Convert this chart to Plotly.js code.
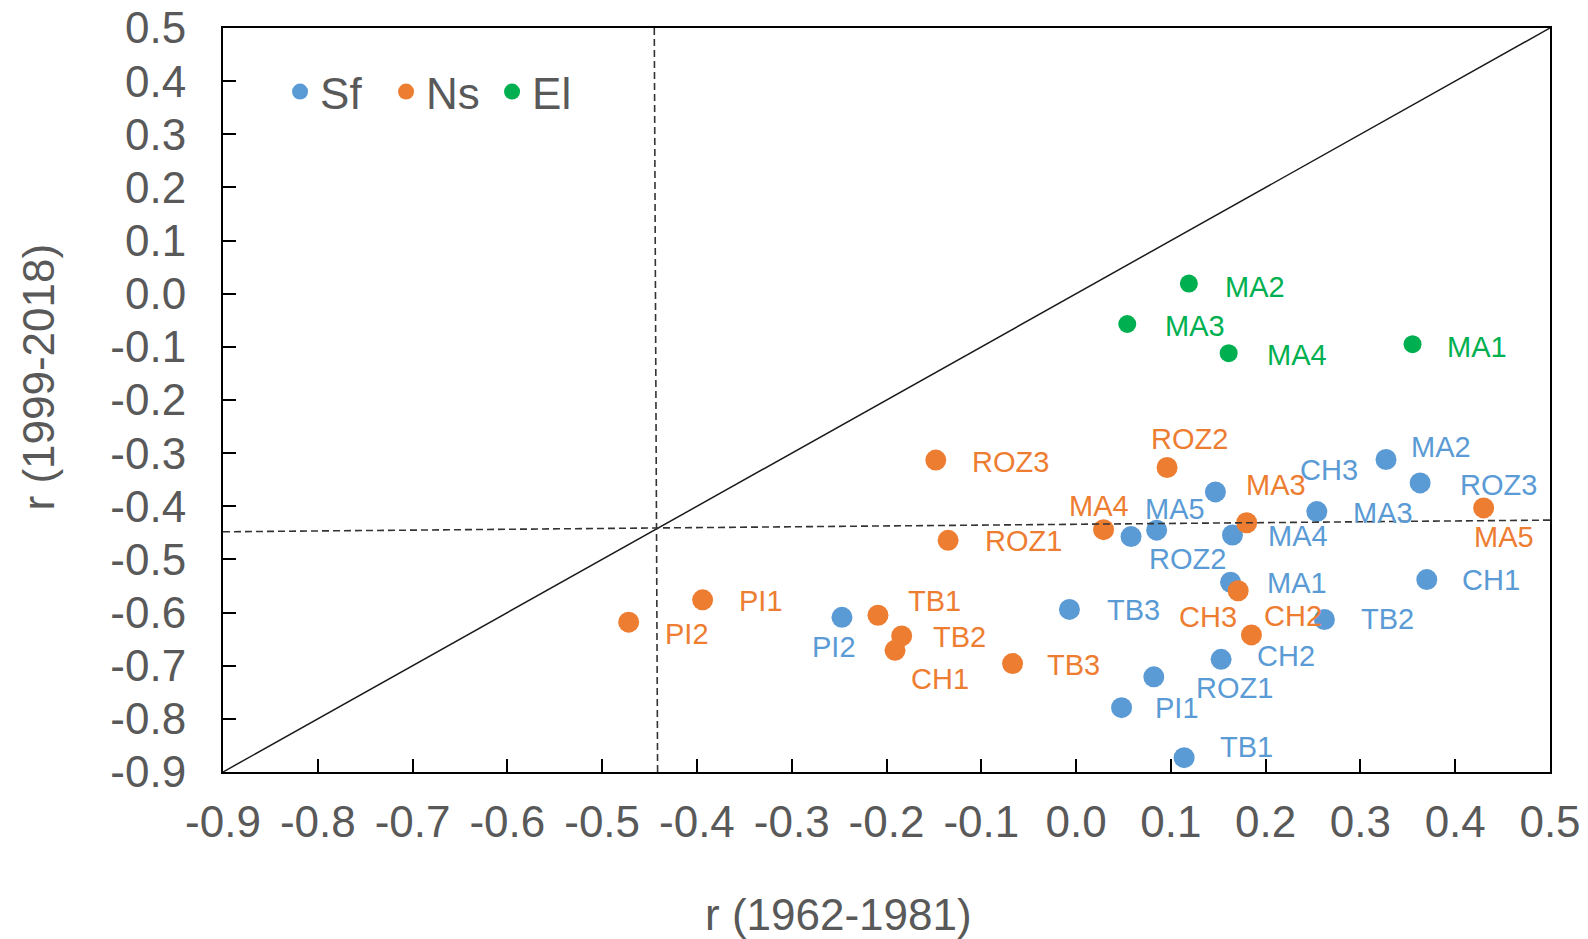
<!DOCTYPE html>
<html>
<head>
<meta charset="utf-8">
<script src="https://cdn.plot.ly/plotly-3.0.1.min.js"></script>
<style>
  html, body { margin: 0; padding: 0; background: #fff; }
  #chart { width: 1588px; height: 939px; }
</style>
</head>
<body>
<div id="chart"></div>
<script>
// Correlation r for two periods, per site and tree-ring parameter
const sfNames = ['PI2', 'TB3', 'PI1', 'ROZ1', 'TB1', 'CH2', 'MA1', 'MA4', 'ROZ2', 'MA5', 'CH3', 'MA3', 'MA2', 'ROZ3', 'CH1', 'TB2'];
const sfX = [-0.247, -0.007, 0.048, 0.082, 0.114, 0.153, 0.163, 0.165, 0.058, 0.085, 0.147, 0.254, 0.327, 0.363, 0.370, 0.262];
const sfY = [-0.609, -0.594, -0.779, -0.721, -0.873, -0.688, -0.543, -0.454, -0.457, -0.445, -0.373, -0.410, -0.312, -0.356, -0.538, -0.613];

const nsNames = ['PI2', 'PI1', 'ROZ3', 'ROZ1', 'TB1', 'TB2', 'CH1', 'TB3', 'MA4', 'ROZ2', 'MA3', 'CH3', 'CH2', 'MA5'];
const nsX = [-0.472, -0.394, -0.148, -0.135, -0.209, -0.184, -0.191, -0.067, 0.029, 0.096, 0.180, 0.171, 0.185, 0.430];
const nsY = [-0.618, -0.576, -0.313, -0.464, -0.605, -0.644, -0.671, -0.696, -0.444, -0.327, -0.431, -0.559, -0.642, -0.403];

const elNames = ['MA2', 'MA3', 'MA4', 'MA1'];
const elX = [0.119, 0.054, 0.161, 0.355];
const elY = [0.019, -0.057, -0.112, -0.095];

// 1:1 line and the mean reference lines
const diagX = [-0.9, 0.5];
const diagY = [-0.9, 0.5];
const meanVX = [-0.445, -0.4415];
const meanVY = [0.5, -0.9];
const meanHX = [-0.9, 0.5];
const meanHY = [-0.448, -0.426];

const xTickVals = [-0.9, -0.8, -0.7, -0.6, -0.5, -0.4, -0.3, -0.2, -0.1, 0.0, 0.1, 0.2, 0.3, 0.4, 0.5];
const xTickText = ['-0.9', '-0.8', '-0.7', '-0.6', '-0.5', '-0.4', '-0.3', '-0.2', '-0.1', '0.0', '0.1', '0.2', '0.3', '0.4', '0.5'];
const yTickVals = [-0.9, -0.8, -0.7, -0.6, -0.5, -0.4, -0.3, -0.2, -0.1, 0.0, 0.1, 0.2, 0.3, 0.4, 0.5];
const yTickText = ['-0.9', '-0.8', '-0.7', '-0.6', '-0.5', '-0.4', '-0.3', '-0.2', '-0.1', '0.0', '0.1', '0.2', '0.3', '0.4', '0.5'];

const xTitle = 'r (1962-1981)';
const yTitle = 'r (1999-2018)';

// Label placement (pixel offset of the label centre from its point: right, down)
const sfLabelPos = {
  PI2: [-8, 30], TB3: [64, 1], PI1: [55, 0], ROZ1: [81, 11], TB1: [62, -11], CH2: [65, -3],
  MA1: [66, 1], MA4: [66, 1], ROZ2: [56, 22], MA5: [18, -21], CH3: [114, -22], MA3: [66, 1],
  MA2: [55, -13], ROZ3: [78, 2], CH1: [64, 0], TB2: [63, 0]
};
const nsLabelPos = {
  PI2: [58, 12], PI1: [58, 1], ROZ3: [75, 2], ROZ1: [75, 1], TB1: [57, -14], TB2: [58, 1],
  CH1: [45, 29], TB3: [61, 1], MA4: [-5, -24], ROZ2: [22, -28], MA3: [29, -38], CH3: [-30, 26],
  CH2: [42, -19], MA5: [20, 29]
};
const elLabelPos = { MA2: [66, 3], MA3: [68, 2], MA4: [68, 2], MA1: [64, 3] };

const BLUE = '#5B9BD5';
const ORANGE = '#ED7D31';
const GREEN = '#00B050';
const GREY = '#595959';
const FONT = 'Liberation Sans, Arial, sans-serif';

const traces = [
  { type: 'scatter', mode: 'markers', name: 'Sf', x: sfX, y: sfY, text: sfNames,
    marker: { color: BLUE, size: 21 }, hoverinfo: 'text+x+y' },
  { type: 'scatter', mode: 'markers', name: 'Ns', x: nsX, y: nsY, text: nsNames,
    marker: { color: ORANGE, size: 21 }, hoverinfo: 'text+x+y' },
  { type: 'scatter', mode: 'markers', name: 'El', x: elX, y: elY, text: elNames,
    marker: { color: GREEN, size: 18 }, hoverinfo: 'text+x+y' },
  { type: 'scatter', mode: 'lines', x: diagX, y: diagY, showlegend: false, hoverinfo: 'skip',
    line: { color: '#1a1a1a', width: 1.5 } },
  { type: 'scatter', mode: 'lines', x: meanVX, y: meanVY, showlegend: false, hoverinfo: 'skip',
    line: { color: '#333333', width: 1.6, dash: '7px,4px' } },
  { type: 'scatter', mode: 'lines', x: meanHX, y: meanHY, showlegend: false, hoverinfo: 'skip',
    line: { color: '#333333', width: 1.6, dash: '7px,4px' } }
];

function labels(names, xs, ys, pos, color) {
  return names.map((n, i) => ({
    x: xs[i], y: ys[i], xref: 'x', yref: 'y', text: n, showarrow: false,
    xanchor: 'center', yanchor: 'middle',
    xshift: pos[n][0], yshift: -pos[n][1],
    font: { family: FONT, size: 29, color: color }
  }));
}

const annotations = []
  .concat(labels(sfNames, sfX, sfY, sfLabelPos, BLUE))
  .concat(labels(nsNames, nsX, nsY, nsLabelPos, ORANGE))
  .concat(labels(elNames, elX, elY, elLabelPos, GREEN))
  .concat([
    { xref: 'paper', yref: 'paper', x: 0.4638, y: -0.192, xanchor: 'center', yanchor: 'middle',
      text: xTitle, showarrow: false, font: { family: FONT, size: 44, color: GREY } },
    { xref: 'paper', yref: 'paper', x: -0.139, y: 0.531, xanchor: 'center', yanchor: 'middle',
      text: yTitle, textangle: -90, showarrow: false, font: { family: FONT, size: 44, color: GREY } }
  ]);

const axisCommon = {
  showgrid: false, zeroline: false,
  showline: true, linecolor: '#000', linewidth: 2, mirror: true,
  ticks: 'inside', ticklen: 13, tickwidth: 1.5, tickcolor: '#000',
  tickmode: 'array',
  tickfont: { family: FONT, size: 44, color: GREY },
  fixedrange: true
};

const layout = {
  width: 1588, height: 939,
  margin: { l: 222.7, r: 37.5, t: 28.3, b: 167.3, pad: 0 },
  paper_bgcolor: '#fff', plot_bgcolor: '#fff',
  font: { family: FONT, color: GREY },
  showlegend: true,
  legend: {
    orientation: 'h', x: 0.043, y: 0.914, xanchor: 'left', yanchor: 'middle',
    font: { family: FONT, size: 44, color: GREY },
    bgcolor: 'rgba(0,0,0,0)', entrywidth: 61, itemclick: false, itemdoubleclick: false
  },
  xaxis: Object.assign({}, axisCommon, {
    range: [-0.9, 0.5], tickvals: xTickVals, ticktext: xTickText,
    ticklabelstandoff: 10
  }),
  yaxis: Object.assign({}, axisCommon, {
    range: [-0.9, 0.5], tickvals: yTickVals, ticktext: yTickText,
    ticklabelstandoff: 26
  }),
  annotations: annotations
};

Plotly.newPlot('chart', traces, layout, { displayModeBar: false });
</script>
</body>
</html>
